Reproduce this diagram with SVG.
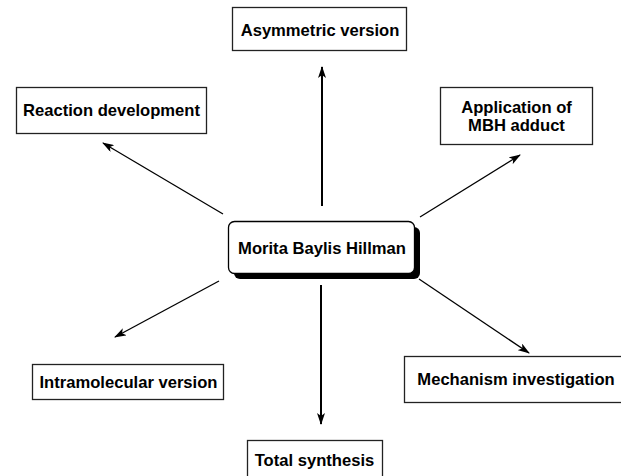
<svg xmlns="http://www.w3.org/2000/svg" width="621" height="476" viewBox="0 0 621 476">
<style>
.box{fill:#fff;stroke:#222;stroke-width:1.3}
.t{font-family:"Liberation Sans",Arial,sans-serif;font-weight:bold;font-size:16.6px;fill:#000;text-anchor:middle}
.c{stroke:#000;fill:none}
</style>
<defs>
<marker id="ah" markerWidth="12" markerHeight="8" refX="11" refY="4" orient="auto" markerUnits="userSpaceOnUse">
<path d="M0,0 L12,4 L0,8 L3,4 Z" fill="#000"/>
</marker>
</defs>
<rect width="621" height="476" fill="#fff"/>
<g id="connectors">
<line class="c" stroke-width="2" x1="322" y1="206" x2="322" y2="67" marker-end="url(#ah)"/>
<line class="c" stroke-width="2" x1="321" y1="285" x2="321" y2="424" marker-end="url(#ah)"/>
<line class="c" stroke-width="1.3" x1="223" y1="214" x2="103" y2="143" marker-end="url(#ah)"/>
<line class="c" stroke-width="1.3" x1="420" y1="217" x2="520" y2="155" marker-end="url(#ah)"/>
<line class="c" stroke-width="1.3" x1="219" y1="281" x2="115" y2="337" marker-end="url(#ah)"/>
<line class="c" stroke-width="1.3" x1="419" y1="279" x2="529" y2="353" marker-end="url(#ah)"/>
</g>
<g id="center">
<rect x="234" y="227" width="186" height="52" rx="6" fill="#000"/>
<rect x="228.5" y="221.5" width="186" height="52" rx="6" fill="#fff" stroke="#000" stroke-width="1.3"/>
<text class="t" x="322" y="253.5">Morita Baylis Hillman</text>
</g>
<g id="asym">
<rect class="box" x="232.5" y="7.5" width="174" height="43"/>
<text class="t" x="320" y="35.5">Asymmetric version</text>
</g>
<g id="reaction">
<rect class="box" x="16.5" y="87.5" width="190" height="46"/>
<text class="t" x="111.5" y="116">Reaction development</text>
</g>
<g id="application">
<rect class="box" x="440.5" y="87.5" width="152" height="57"/>
<text class="t" x="516.5" y="113">Application of</text>
<text class="t" x="516.5" y="131">MBH adduct</text>
</g>
<g id="intramolecular">
<rect class="box" x="32.5" y="364.5" width="191" height="35"/>
<text class="t" x="128.5" y="388">Intramolecular version</text>
</g>
<g id="mechanism">
<rect class="box" x="404.5" y="356.5" width="222" height="46"/>
<text class="t" x="516" y="385">Mechanism investigation</text>
</g>
<g id="total">
<rect class="box" x="247.5" y="440.5" width="135" height="40"/>
<text class="t" x="314.5" y="465.5">Total synthesis</text>
</g>
</svg>
